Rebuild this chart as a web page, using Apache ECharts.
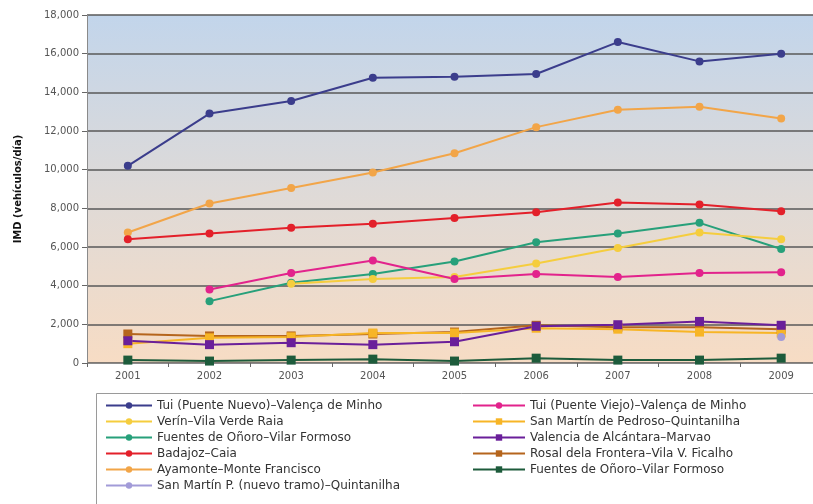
<!DOCTYPE html>
<html>
<head>
<meta charset="utf-8">
<script src="https://cdn.jsdelivr.net/npm/echarts@6/dist/echarts.min.js"></script>
<style>html,body{margin:0;padding:0;background:#fff;overflow:hidden;width:813px;height:504px;}#c{width:826px;height:504px;}</style>
</head>
<body>
<div id="c"></div>
<script>
const years = ['2001','2002','2003','2004','2005','2006','2007','2008','2009'];
const yTicks = [0, 2000, 4000, 6000, 8000, 10000, 12000, 14000, 16000, 18000];

const tuiNuevo   = [10200, 12900, 13550, 14750, 14800, 14950, 16600, 15600, 16000];
const tuiViejo   = [null, 3800, 4650, 5300, 4350, 4600, 4450, 4650, 4700];
const verin      = [null, null, 4100, 4350, 4450, 5150, 5950, 6750, 6400];
const sanMartin  = [1000, 1300, 1350, 1550, 1550, 1800, 1750, 1600, 1550];
const fuentes    = [null, 3200, 4150, 4600, 5250, 6250, 6700, 7250, 5900];
const valencia   = [1150, 950, 1050, 950, 1100, 1900, 1980, 2150, 1950];
const badajoz    = [6400, 6700, 7000, 7200, 7500, 7800, 8300, 8200, 7850];
const rosal      = [1500, 1400, 1400, 1500, 1600, 1950, 1850, 1850, 1750];
const ayamonte   = [6750, 8250, 9050, 9850, 10850, 12200, 13100, 13250, 12650];
const fuentes2   = [150, 100, 150, 200, 100, 250, 150, 150, 250];
const sanMartinN = [null, null, null, null, null, null, null, null, 1350];

const names = {
  tuiNuevo: 'Tui (Puente Nuevo)–Valença de Minho',
  tuiViejo: 'Tui (Puente Viejo)–Valença de Minho',
  verin: 'Verín–Vila Verde Raia',
  sanMartin: 'San Martín de Pedroso–Quintanilha',
  fuentes: 'Fuentes de Oñoro–Vilar Formoso',
  valencia: 'Valencia de Alcántara–Marvao',
  badajoz: 'Badajoz–Caia',
  rosal: 'Rosal dela Frontera–Vila V. Ficalho',
  ayamonte: 'Ayamonte–Monte Francisco',
  fuentes2: 'Fuentes de Oñoro–Vilar Formoso ',
  sanMartinN: 'San Martín P. (nuevo tramo)–Quintanilha'
};

function mk(name, data, color, symbol) {
  return {
    name: name, type: 'line', data: data,
    symbol: symbol, symbolSize: symbol === 'rect' ? 9 : 8,
    connectNulls: false,
    lineStyle: { color: color, width: 2 },
    itemStyle: { color: color },
    emphasis: { disabled: true }
  };
}

const chart = echarts.init(document.getElementById('c'));
const font = 'DejaVu Sans';
const legendText = { fontSize: 12, color: '#333', lineHeight: 13, fontFamily: font };
chart.setOption({
  animation: false,
  textStyle: { fontFamily: font },
  graphic: [{
    type: 'rect', z: 0,
    shape: { x: 96.5, y: 393.5, width: 740, height: 130 },
    style: { fill: '#ffffff', stroke: '#9a9a9a', lineWidth: 1 }
  }],
  grid: {
    left: 87, top: 15, width: 735, height: 348,
    show: true, borderWidth: 0,
    backgroundColor: new echarts.graphic.LinearGradient(0, 0, 0, 1, [
      { offset: 0, color: '#c2d5eb' },
      { offset: 0.5, color: '#dedad8' },
      { offset: 1, color: '#f7dcc4' }
    ])
  },
  xAxis: {
    type: 'category', data: years, boundaryGap: true,
    axisLine: { lineStyle: { color: '#8a8a8a', width: 1 } },
    axisTick: { show: true, length: 4, lineStyle: { color: '#666' } },
    axisLabel: { color: '#555', fontSize: 10, margin: 8, fontFamily: font }
  },
  yAxis: {
    type: 'value', min: 0, max: 18000, interval: 2000,
    name: 'IMD (vehículos/día)', nameLocation: 'middle', nameGap: 64,
    nameTextStyle: { color: '#111', fontSize: 10, fontWeight: 'bold', fontFamily: font },
    axisLine: { show: true, lineStyle: { color: '#8a8a8a', width: 1 } },
    axisTick: { show: true, length: 5, lineStyle: { color: '#666' } },
    axisLabel: {
      color: '#555', fontSize: 10, margin: 8, fontFamily: font,
      formatter: function (v) { return v.toLocaleString('en-US'); }
    },
    splitLine: { show: true, lineStyle: { color: '#585858', width: 1.6 } }
  },
  legend: [{
    orient: 'vertical', left: 100, top: 394,
    itemWidth: 46, itemHeight: 8, itemGap: 3,
    textStyle: legendText,
    data: [names.tuiNuevo, names.verin, names.fuentes, names.badajoz, names.ayamonte, names.sanMartinN]
  }, {
    orient: 'vertical', left: 467, top: 394,
    itemWidth: 52, itemHeight: 8, itemGap: 3,
    textStyle: legendText,
    data: [names.tuiViejo, names.sanMartin, names.valencia, names.rosal, names.fuentes2]
  }],
  series: [
    mk(names.tuiNuevo, tuiNuevo, '#3b3d8c', 'circle'),
    mk(names.ayamonte, ayamonte, '#f2a548', 'circle'),
    mk(names.badajoz, badajoz, '#e3202a', 'circle'),
    mk(names.fuentes, fuentes, '#27a07a', 'circle'),
    mk(names.verin, verin, '#f5cd3e', 'circle'),
    mk(names.tuiViejo, tuiViejo, '#e2238c', 'circle'),
    mk(names.rosal, rosal, '#b5651d', 'rect'),
    mk(names.sanMartin, sanMartin, '#f7b526', 'rect'),
    mk(names.valencia, valencia, '#6a1f9a', 'rect'),
    mk(names.sanMartinN, sanMartinN, '#a29bd8', 'circle'),
    mk(names.fuentes2, fuentes2, '#1d5b3b', 'rect')
  ]
});
</script>
</body>
</html>
